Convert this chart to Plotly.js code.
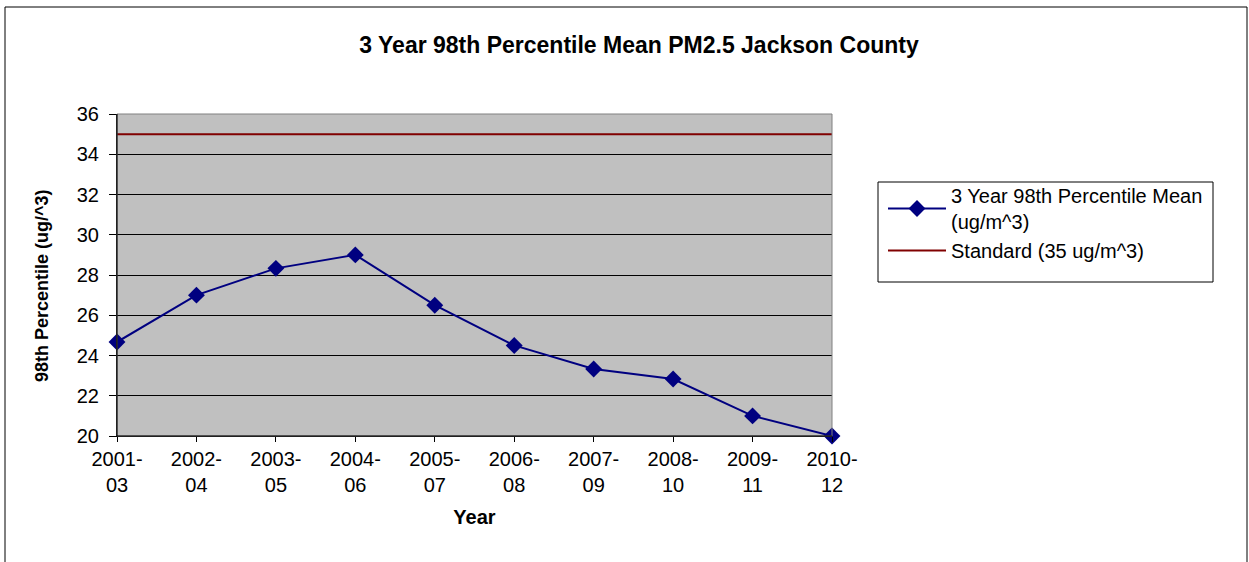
<!DOCTYPE html>
<html><head><meta charset="utf-8">
<script src="https://cdn.plot.ly/plotly-3.0.1.min.js"></script>
<style>html,body{margin:0;padding:0;background:#fff;}#chart{width:1249px;height:562px;}</style>
</head><body><div id="chart"></div>
<script>
const categories = ["2001-<br>03","2002-<br>04","2003-<br>05","2004-<br>06","2005-<br>07","2006-<br>08","2007-<br>09","2008-<br>10","2009-<br>11","2010-<br>12"];
const meanValues = [24.67, 27.0, 28.33, 29.0, 26.5, 24.5, 23.33, 22.83, 21.0, 20.0];
const standardValues = [35,35,35,35,35,35,35,35,35,35];
const yTicks = [20,22,24,26,28,30,32,34,36];

const font = "Liberation Sans, Arial, sans-serif";
const PX = (x) => (x-117)/715;
const PY = (y) => (436-y)/322;
const traces = [
  {x: categories, y: meanValues, type: 'scatter', mode: 'lines+markers', cliponaxis: false,
   name: '3 Year 98th Percentile Mean<br>(ug/m^3)',
   line: {color: '#000080', width: 2}, marker: {symbol: 'diamond', size: 13, color: '#000080'}},
  {x: categories, y: standardValues, type: 'scatter', mode: 'lines',
   name: 'Standard (35 ug/m^3)', line: {color: '#800000', width: 2}}
];
const layout = {
  width: 1249, height: 562,
  margin: {l: 117, r: 417, t: 114, b: 126},
  paper_bgcolor: '#ffffff', plot_bgcolor: '#c0c0c0',
  font: {family: font, size: 20, color: '#000'},
  title: {text: '<b>3 Year 98th Percentile Mean PM2.5 Jackson County</b>', font: {size: 23, family: font},
          x: 639/1249, xref: 'container', xanchor: 'center', y: 1 - 45/562, yanchor: 'middle'},
  xaxis: {type: 'category', range: [0, 9], showgrid: false, ticks: 'outside', ticklen: 5, tickcolor: '#000',
          showline: true, linecolor: '#000', linewidth: 1, tickfont: {size: 20},
          title: {text: '<b>Year</b>', font: {size: 20}, standoff: 14}, zeroline: false},
  yaxis: {range: [20, 36], tickvals: yTicks, ticks: 'outside', ticklen: 7, tickcolor: '#000',
          ticklabelstandoff: 6,
          showgrid: true, gridcolor: '#000', gridwidth: 1, showline: true, linecolor: '#000', linewidth: 1,
          tickfont: {size: 20}, zeroline: false},
  annotations: [
    {text: '<b>98th Percentile (ug/^3)</b>', xref: 'paper', yref: 'paper', x: PX(42), y: PY(286),
     xanchor: 'center', yanchor: 'middle', textangle: -90, showarrow: false, font: {size: 18}}
  ],
  legend: {x: PX(883), y: PY(176), xanchor: 'left', yanchor: 'top',
           borderwidth: 0, bgcolor: 'rgba(0,0,0,0)', font: {size: 20},
           tracegroupgap: 0, itemwidth: 58},
  showlegend: true,
  shapes: [
    {type: 'rect', xref: 'paper', yref: 'paper', x0: 0, x1: 1, y0: 0, y1: 1, line: {color: '#808080', width: 1}, layer: 'above'},
    {type: 'line', xref: 'paper', yref: 'paper', x0: 0, x1: 0, y0: 0, y1: 1, line: {color: '#000', width: 1}, layer: 'above'},
    {type: 'line', xref: 'paper', yref: 'paper', x0: 0, x1: 1, y0: 0, y1: 0, line: {color: '#000', width: 1}, layer: 'above'},
    {type: 'rect', xref: 'paper', yref: 'paper', x0: PX(878), x1: PX(1213), y0: PY(282), y1: PY(182),
     line: {color: '#000', width: 1}, fillcolor: '#fff', layer: 'below'},
    {type: 'rect', xref: 'paper', yref: 'paper', x0: PX(5), x1: PX(1247), y0: PY(600), y1: PY(7),
     line: {color: '#000', width: 1}, fillcolor: 'rgba(0,0,0,0)', layer: 'below'}
  ]
};
Plotly.newPlot('chart', traces, layout, {displayModeBar: false, staticPlot: true});
</script></body></html>
